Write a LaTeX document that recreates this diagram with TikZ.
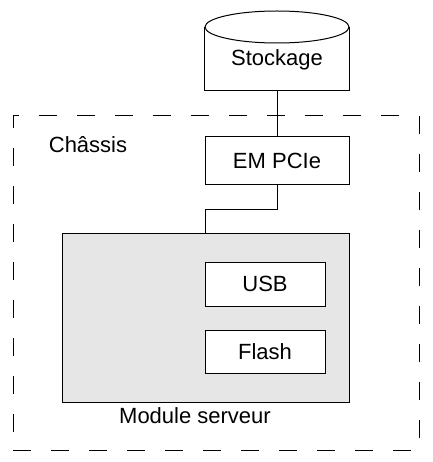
\documentclass[tikz,border=0pt]{standalone}
\usepackage{fontspec}
\setmainfont{Liberation Sans}
\definecolor{modgray}{HTML}{E6E6E6}
\begin{document}
\begin{tikzpicture}[x=1pt,y=-1pt,
  every node/.style={font=\fontsize{22}{26}\selectfont, inner sep=0pt},
  box/.style={draw=black, line width=1pt, fill=white, rectangle},
  wire/.style={draw=black, line width=1pt},
  chassisbox/.style={draw=black, line width=1pt, dash pattern=on 18pt off 20pt}]
\useasboundingbox (0,0) rectangle (432,462);
% chassis
\node[chassisbox, minimum width=406pt, minimum height=334pt] (chassis) at (216,283) {};
\node (chlabel) at (88,145) {Châssis};
% storage cylinder
\node[minimum width=144pt, minimum height=63pt] (stor) at (277,58.5) {};
\draw[wire, fill=white] (stor.north west) -- (stor.south west) -- (stor.south east) -- (stor.north east);
\draw[wire, fill=white] (277,27) ellipse [x radius=72pt, y radius=16pt];
\node at (277,60) {Stockage};
% EM PCIe
\node[box, minimum width=144pt, minimum height=48pt] (em) at (277,161) {EM PCIe};
% module
\node[box, fill=modgray, minimum width=287pt, minimum height=169pt] (module) at (205.5,317.5) {};
\node[box, minimum width=120pt, minimum height=44pt] (usb) at (265,284) {USB};
\node[box, minimum width=120pt, minimum height=43pt] (flash) at (265,351.5) {Flash};
\node (modlabel) at (195,416) {Module serveur};
% connectors
\draw[wire] (stor.south) -- (em.north);
\draw[wire] (em.south) -- ++(0,24) -| (module.north);
\end{tikzpicture}
\end{document}
